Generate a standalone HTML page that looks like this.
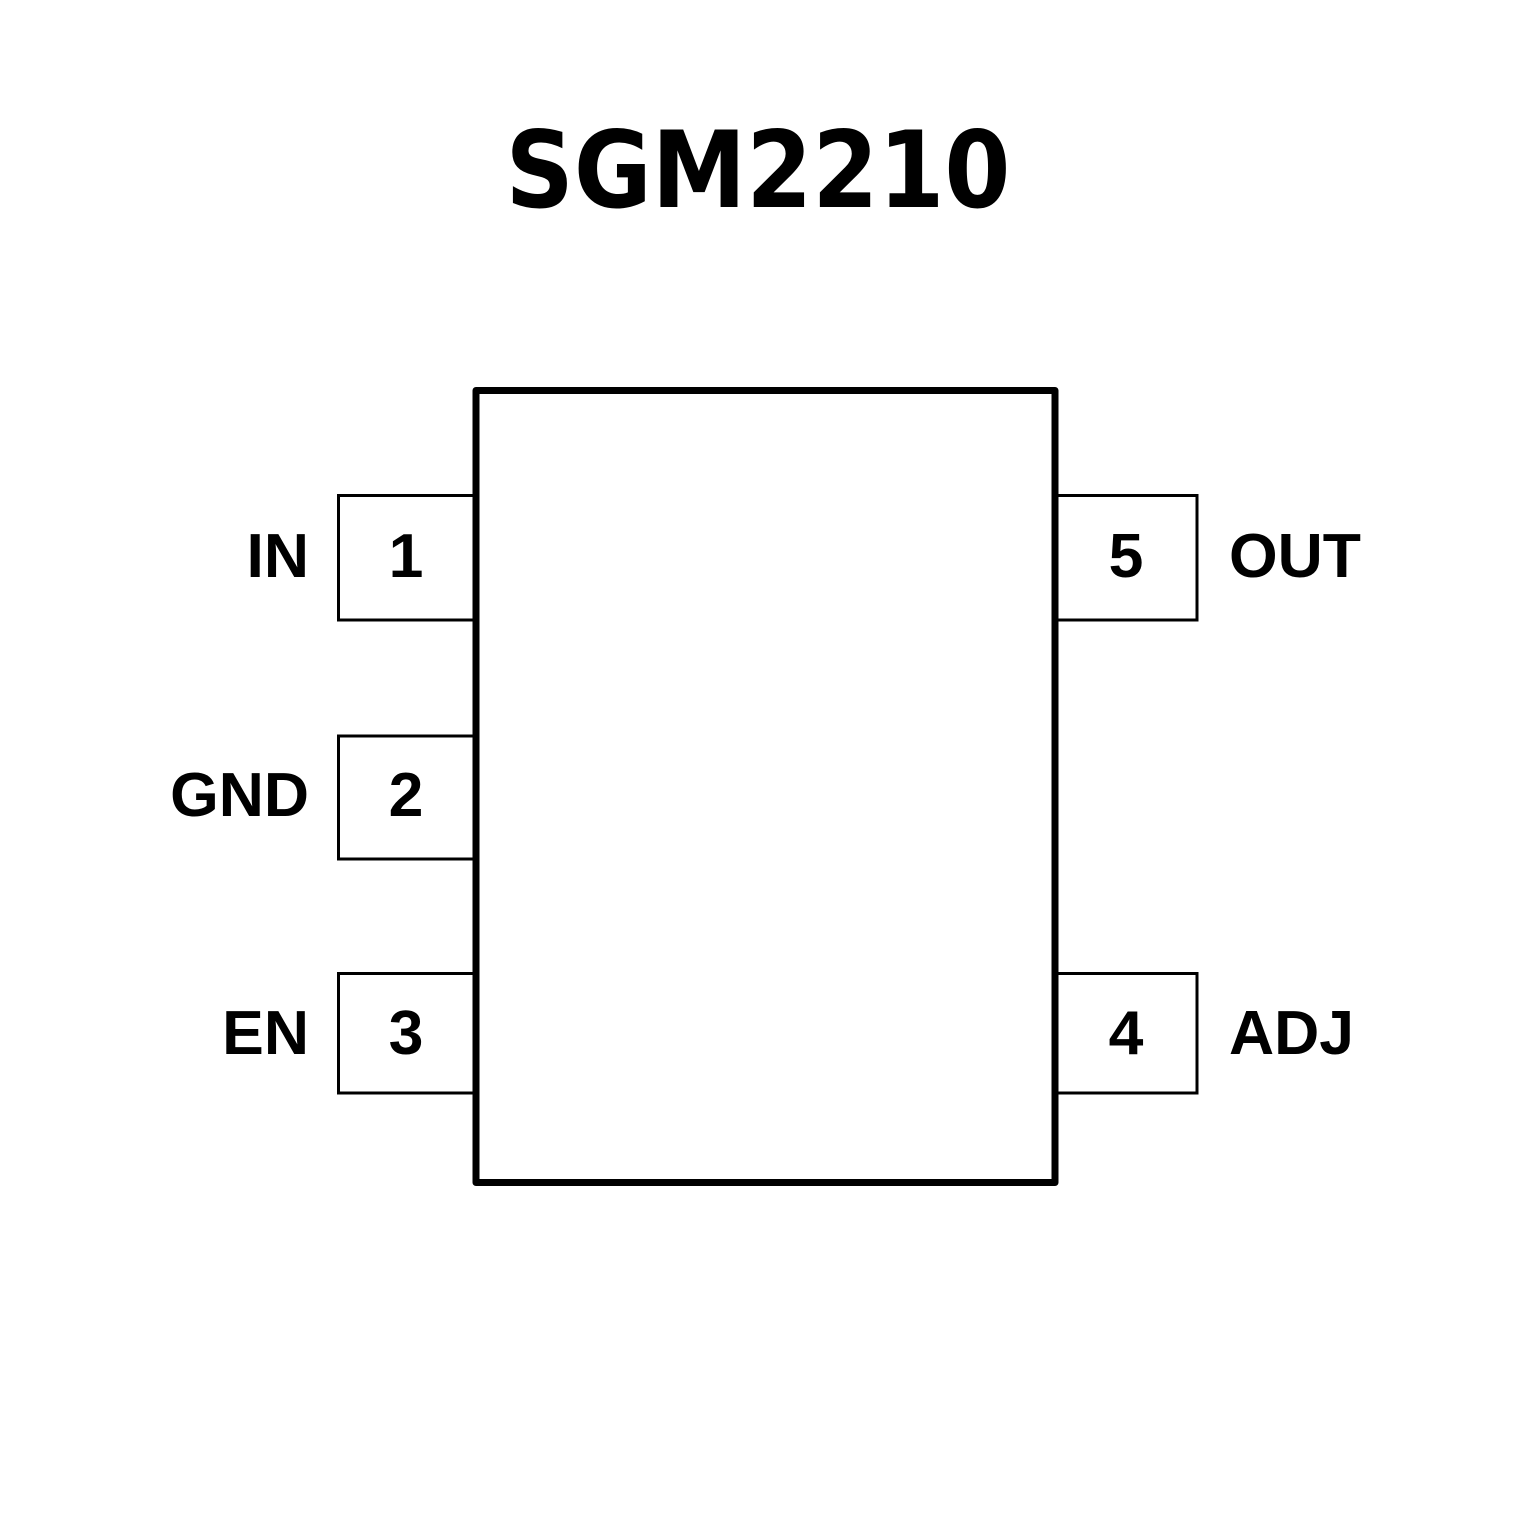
<!DOCTYPE html>
<html><head><style>html,body{margin:0;padding:0;background:#fff}</style></head>
<body>
<svg width="1535" height="1535" viewBox="0 0 1535 1535" xmlns="http://www.w3.org/2000/svg">
<rect width="1535" height="1535" fill="#fff"/>
<text x="758" y="207" text-anchor="middle" font-family="'DejaVu Sans','Liberation Sans',sans-serif" font-weight="bold" font-size="106" textLength="505" lengthAdjust="spacingAndGlyphs">SGM2210</text>
<g fill="none" stroke="#000" stroke-width="3">
<path d="M476 495.5 H338.5 V620 H476"/>
<path d="M476 736 H338.5 V859 H476"/>
<path d="M476 973.5 H338.5 V1093 H476"/>
<path d="M1055 495.5 H1197 V620 H1055"/>
<path d="M1055 973.5 H1197 V1093 H1055"/>
</g>
<rect x="476" y="390.5" width="579" height="792" fill="none" stroke="#000" stroke-width="7" stroke-linejoin="round"/>
<g font-family="'Liberation Sans',Arial,sans-serif" font-weight="bold" font-size="62.5" fill="#000">
<text x="309" y="577" text-anchor="end">IN</text>
<text x="309" y="816" text-anchor="end">GND</text>
<text x="309" y="1054" text-anchor="end">EN</text>
<text x="406" y="577" text-anchor="middle">1</text>
<text x="406" y="816" text-anchor="middle">2</text>
<text x="406" y="1054" text-anchor="middle">3</text>
<text x="1126" y="577" text-anchor="middle">5</text>
<text x="1126" y="1054" text-anchor="middle">4</text>
<text x="1229" y="577">OUT</text>
<text x="1229" y="1054">ADJ</text>
</g>
</svg>
</body></html>
